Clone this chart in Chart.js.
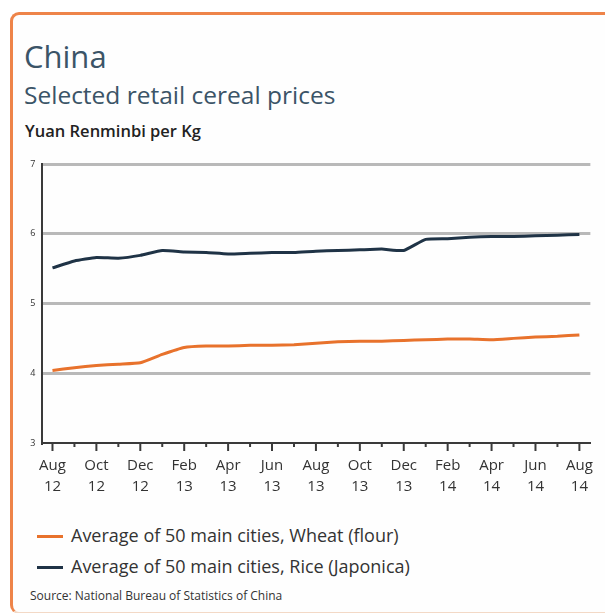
<!DOCTYPE html>
<html>
<head>
<meta charset="utf-8">
<script src="https://cdn.jsdelivr.net/npm/chart.js@4"></script>
<style>
    body {
        margin: 0;
        width: 605px;
        height: 613px;
        overflow: hidden;
        background: #ffffff;
        font-family: "Open Sans", sans-serif;
    }
    .frame {
        position: absolute;
        left: 10px;
        top: 12px;
        width: 640px;
        height: 597px;
        border-top: 3px solid #ee8449;
        border-left: 3px solid #ee8449;
        border-bottom: 2px solid #f3d9c6;
        border-radius: 9px 0 0 9px;
        background: #fefefe;
    }
    .title {
        position: absolute;
        left: 24px;
        top: 38px;
        font-size: 31px;
        line-height: 36px;
        color: #3b5467;
    }
    .subtitle {
        position: absolute;
        left: 24px;
        top: 81px;
        font-size: 24.5px;
        line-height: 28px;
        color: #3b5467;
    }
    .unit {
        position: absolute;
        left: 25px;
        top: 121px;
        font-size: 16.5px;
        font-weight: 600;
        line-height: 20px;
        color: #222;
    }
    .chart-box {
        position: absolute;
        left: 0;
        top: 150px;
        width: 605px;
        height: 350px;
    }
    .legend-row {
        position: absolute;
        left: 37px;
        font-size: 18px;
        line-height: 22px;
        color: #333;
    }
    .legend-row span.swatch {
        display: inline-block;
        width: 26px;
        height: 3px;
        vertical-align: middle;
        margin-right: 8px;
        margin-top: -2px;
    }
    .source {
        position: absolute;
        left: 30px;
        top: 588px;
        font-size: 12px;
        line-height: 15px;
        color: #333;
    }
</style>
</head>
<body>
<div class="frame"></div>
<div class="title">China</div>
<div class="subtitle">Selected retail cereal prices</div>
<div class="unit">Yuan Renminbi per Kg</div>
<div class="chart-box"><canvas id="pricesChart"></canvas></div>
<div id="legend"></div>
<div class="source">Source: National Bureau of Statistics of China</div>

<script>
// Monthly, Aug 2012 - Aug 2014
const months = ['Aug','Sep','Oct','Nov','Dec','Jan','Feb','Mar','Apr','May','Jun','Jul',
                'Aug','Sep','Oct','Nov','Dec','Jan','Feb','Mar','Apr','May','Jun','Jul','Aug'];
const years = ['12','12','12','12','12','13','13','13','13','13','13','13',
               '13','13','13','13','13','14','14','14','14','14','14','14','14'];

const wheatName = 'Average of 50 main cities, Wheat (flour)';
const wheatPrices = [4.04, 4.08, 4.11, 4.13, 4.15, 4.27, 4.37, 4.39, 4.39, 4.40, 4.40, 4.41,
                     4.43, 4.45, 4.46, 4.46, 4.47, 4.48, 4.49, 4.49, 4.48, 4.50, 4.52, 4.53, 4.55];

const riceName = 'Average of 50 main cities, Rice (Japonica)';
const ricePrices = [5.51, 5.61, 5.66, 5.65, 5.69, 5.76, 5.74, 5.73, 5.71, 5.72, 5.73, 5.73,
                    5.75, 5.76, 5.77, 5.78, 5.76, 5.92, 5.93, 5.95, 5.96, 5.96, 5.97, 5.98, 5.99];

const yTicks = [3, 4, 5, 6, 7];

const wheatColor = '#e8722c';
const riceColor = '#1f3346';

// only every second month gets a label
const labels = months.map((m, i) => (i % 2 === 0 ? [m, years[i]] : ''));

// small tick marks under the x axis, long ones on labelled months
const monthTicks = {
    id: 'monthTicks',
    afterDraw(chart) {
        const ctx = chart.ctx;
        const xScale = chart.scales.x;
        const bottom = chart.chartArea.bottom;
        ctx.save();
        ctx.strokeStyle = '#3a3a3a';
        ctx.lineWidth = 2;
        for (let i = 0; i < months.length; i++) {
            const x = xScale.getPixelForValue(i);
            const len = i % 2 === 0 ? 8 : 4;
            ctx.beginPath();
            ctx.moveTo(x, bottom);
            ctx.lineTo(x, bottom + len);
            ctx.stroke();
        }
        ctx.restore();
    }
};

const ctx = document.getElementById('pricesChart').getContext('2d');
new Chart(ctx, {
    type: 'line',
    data: {
        labels: labels,
        datasets: [{
            label: riceName,
            data: ricePrices,
            borderColor: riceColor,
            borderWidth: 3,
            pointRadius: 0,
            tension: 0.15
        }, {
            label: wheatName,
            data: wheatPrices,
            borderColor: wheatColor,
            borderWidth: 3,
            pointRadius: 0,
            tension: 0.15
        }]
    },
    options: {
        responsive: true,
        maintainAspectRatio: false,
        animation: false,
        layout: {
            padding: { top: 14, right: 10, left: 0, bottom: 0 }
        },
        plugins: {
            legend: { display: false },
            tooltip: { enabled: false }
        },
        scales: {
            x: {
                offset: true,
                grid: { display: true, drawOnChartArea: false, drawTicks: false },
                border: { display: true, color: '#3a3a3a', width: 2 },
                ticks: {
                    autoSkip: false,
                    maxRotation: 0,
                    padding: 12,
                    color: '#333',
                    font: { family: 'Open Sans', size: 15, lineHeight: 1.4 }
                },
                afterFit(scale) {
                    scale.height = 57;
                }
            },
            y: {
                min: 3,
                max: 7,
                afterBuildTicks(scale) {
                    scale.ticks = yTicks.map(v => ({ value: v }));
                },
                grid: {
                    drawTicks: false,
                    lineWidth: 3,
                    color: c => (c.tick && c.tick.value === 3 ? 'rgba(0,0,0,0)' : '#b9b9b9')
                },
                border: { display: true, color: '#3a3a3a', width: 2 },
                ticks: {
                    padding: 6,
                    color: '#333',
                    font: { family: 'Open Sans', size: 9 }
                },
                afterFit(scale) {
                    scale.width = 41.5;
                }
            }
        }
    },
    plugins: [monthTicks]
});

// legend rows, wheat first as in the original
const legendItems = [
    { name: wheatName, color: wheatColor, top: 524 },
    { name: riceName, color: riceColor, top: 555 }
];
const legendEl = document.getElementById('legend');
legendItems.forEach(item => {
    const row = document.createElement('div');
    row.className = 'legend-row';
    row.style.top = item.top + 'px';
    const swatch = document.createElement('span');
    swatch.className = 'swatch';
    swatch.style.background = item.color;
    row.appendChild(swatch);
    row.appendChild(document.createTextNode(item.name));
    legendEl.appendChild(row);
});
</script>
</body>
</html>
